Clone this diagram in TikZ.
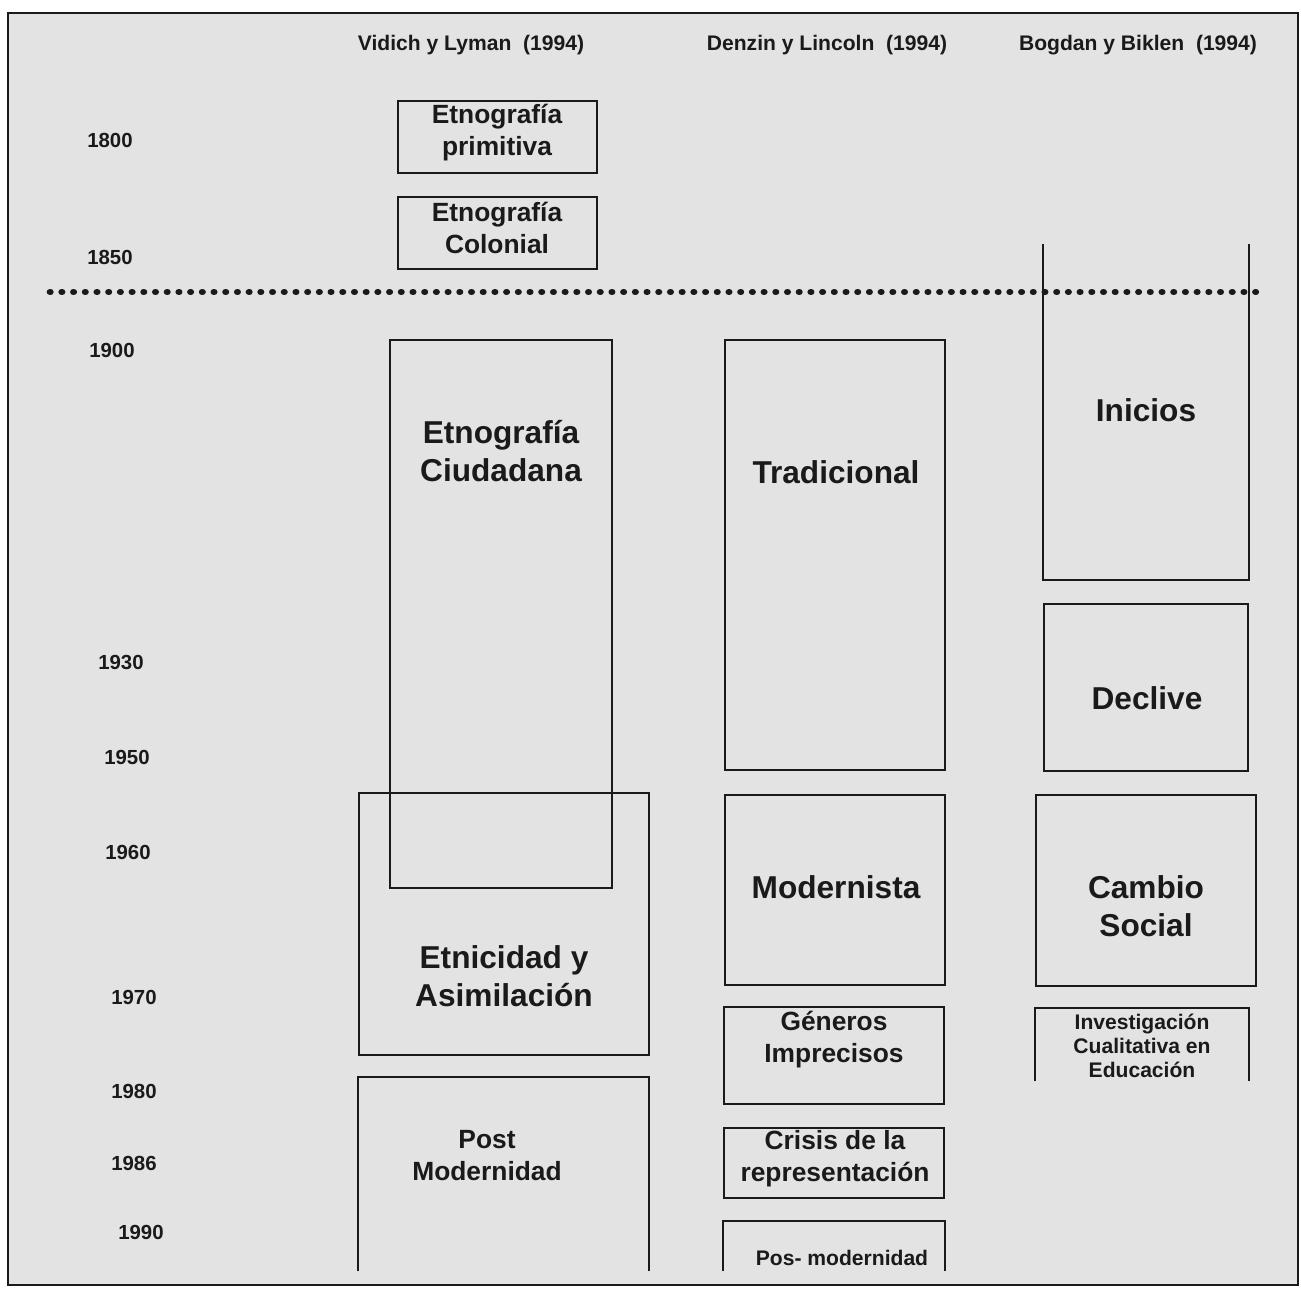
\documentclass[tikz,border=0pt]{standalone}
\usepackage{fontspec}
\setmainfont{Liberation Sans}
\usepackage{xcolor}
\usetikzlibrary{fit}
\definecolor{ScanGray}{HTML}{E3E3E3}
\definecolor{Ink}{HTML}{1A1A1A}
\newcommand{\bfsize}[2]{\fontsize{#1}{#2}\selectfont\bfseries}

\begin{document}
\begin{tikzpicture}[
  x=0.1mm, y=-0.1mm,
  frame/.style={draw=Ink,line width=0.7pt,fill=ScanGray},
  period/.style={draw=Ink,line width=0.6pt,inner sep=0pt},
  openperiod/.style={inner sep=0pt},
  edge/.style={draw=Ink,line width=0.6pt},
  era/.style={align=center,text=Ink,inner sep=0pt},
  eraL/.style={era,font=\bfsize{9}{10.8}},
  eraM/.style={era,font=\bfsize{7.5}{9.1}},
  eraS/.style={era,font=\bfsize{6}{6.8}},
  author/.style={inner sep=0pt,text=Ink,font=\bfsize{6}{7}},
  year/.style={inner sep=0pt,text=Ink,font=\bfsize{5.8}{7}},
  cutline/.style={draw=Ink,line width=1.9pt,line cap=round,dash pattern=on 0.1pt off 3.23pt}
]
\useasboundingbox (0,0) rectangle (1301,1295);
\draw[frame] (8,13) rectangle (1298,1285);

% authors
\node[author] (vidich) at (471,45) {Vidich y Lyman~~(1994)};
\node[author] (denzin) at (827,45) {Denzin y Lincoln~~(1994)};
\node[author] (bogdan) at (1138,45) {Bogdan y Biklen~~(1994)};

% years
\node[year] (y1800) at (110,140) {1800};
\node[year] (y1850) at (110,257) {1850};
\node[year] (y1900) at (112,350) {1900};
\node[year] (y1930) at (121,662) {1930};
\node[year] (y1950) at (127,757) {1950};
\node[year] (y1960) at (128,852) {1960};
\node[year] (y1970) at (134,997) {1970};
\node[year] (y1980) at (134,1091) {1980};
\node[year] (y1986) at (134,1163) {1986};
\node[year] (y1990) at (141,1232) {1990};

% cut between 1850 and 1900
\coordinate (cutL) at (50,292);
\coordinate (cutR) at (1265,292);
\draw[cutline] (cutL) -- (cutR);

% Vidich y Lyman
\node[period,fit={(398,101) (597,173)}] (primitiva) {};
\node[eraM] (primitiva-t) at (497,133) {Etnografía\\primitiva};
\node[period,fit={(398,197) (597,269)}] (colonial) {};
\node[eraM] (colonial-t) at (497,228) {Etnografía\\Colonial};
\node[period,fit={(390,340) (612,888)}] (ciudadana) {};
\node[eraL] (ciudadana-t) at (501,451) {Etnografía\\Ciudadana};
\node[period,fit={(359,793) (649,1055)}] (etnicidad) {};
\node[eraL] (etnicidad-t) at (504,976) {Etnicidad y\\Asimilación};
\node[openperiod,fit={(359,1078) (648,1270)}] (postmod) {};
\draw[edge] (postmod.south west) |- (postmod.north east) -- (postmod.south east);
\node[eraM] (postmod-t) at (487,1156) {Post\\Modernidad};

% Denzin y Lincoln
\node[period,fit={(725,340) (945,770)}] (tradicional) {};
\node[eraL] (tradicional-t) at (836,472) {Tradicional};
\node[period,fit={(725,795) (945,985)}] (modernista) {};
\node[eraL] (modernista-t) at (836,887) {Modernista};
\node[period,fit={(724,1007) (944,1104)}] (generos) {};
\node[eraM] (generos-t) at (834,1040) {Géneros\\Imprecisos};
\node[period,fit={(724,1128) (944,1198)}] (crisis) {};
\node[eraM] (crisis-t) at (835,1159) {Crisis de la\\representación};
\node[openperiod,fit={(724,1222) (944,1270)}] (posmod) {};
\draw[edge] (posmod.south west) |- (posmod.north east) -- (posmod.south east);
\node[eraS] (posmod-t) at (842,1258) {Pos- modernidad};

% Bogdan y Biklen
\node[openperiod,fit={(1044,245) (1248,579)}] (inicios) {};
\draw[edge] (inicios.north west) |- (inicios.south east) -- (inicios.north east);
\node[eraL] (inicios-t) at (1146,410) {Inicios};
\node[period,fit={(1044,604) (1248,771)}] (declive) {};
\node[eraL] (declive-t) at (1147,698) {Declive};
\node[period,fit={(1036,795) (1256,986)}] (cambio) {};
\node[eraL] (cambio-t) at (1146,906) {Cambio\\Social};
\node[openperiod,fit={(1036,1009) (1248,1080)}] (educacion) {};
\draw[edge] (educacion.south west) |- (educacion.north east) -- (educacion.south east);
\node[eraS] (educacion-t) at (1142,1046) {Investigación\\Cualitativa en\\Educación};
\end{tikzpicture}
\end{document}
